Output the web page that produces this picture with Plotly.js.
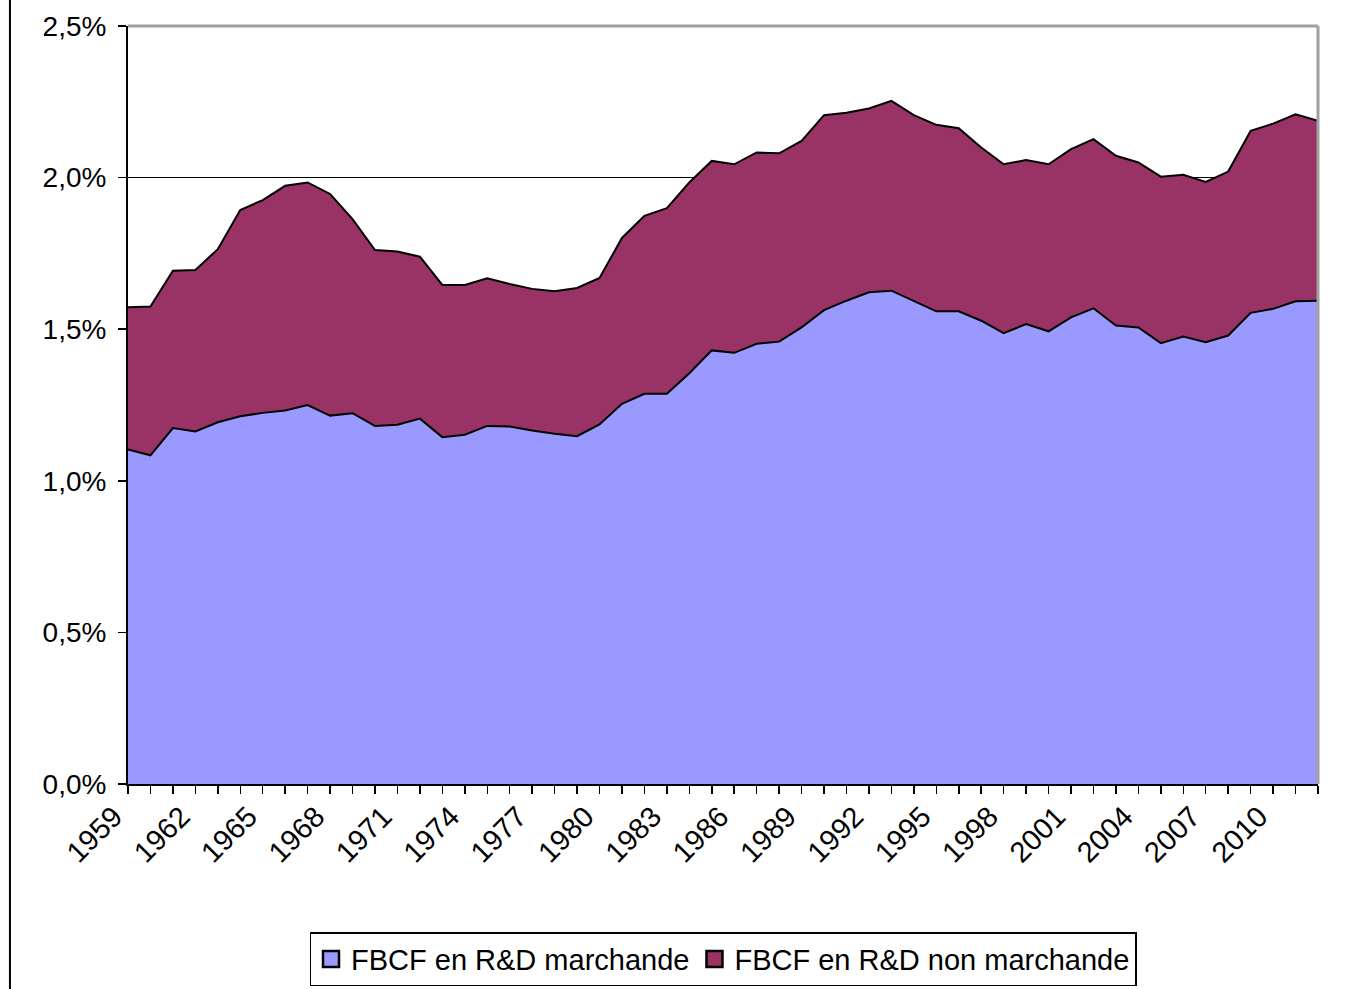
<!DOCTYPE html>
<html>
<head>
<meta charset="utf-8">
<script src="https://cdn.plot.ly/plotly-3.0.1.min.js"></script>
<style>
html,body{margin:0;padding:0;background:#fff;}
#chart{width:1347px;height:989px;}
</style>
</head>
<body>
<div id="chart"></div>
<script>
const years = [1959,1960,1961,1962,1963,1964,1965,1966,1967,1968,1969,1970,1971,1972,1973,1974,1975,1976,1977,1978,1979,1980,1981,1982,1983,1984,1985,1986,1987,1988,1989,1990,1991,1992,1993,1994,1995,1996,1997,1998,1999,2000,2001,2002,2003,2004,2005,2006,2007,2008,2009,2010,2011,2012];

// FBCF en R&D marchande (% du PIB)
const marchande = [1.103,1.084,1.174,1.163,1.193,1.213,1.224,1.232,1.250,1.215,1.223,1.181,1.185,1.205,1.144,1.152,1.181,1.179,1.166,1.155,1.147,1.186,1.254,1.287,1.287,1.355,1.430,1.422,1.452,1.459,1.506,1.563,1.594,1.622,1.627,1.594,1.559,1.559,1.528,1.487,1.517,1.493,1.539,1.569,1.512,1.506,1.454,1.476,1.457,1.479,1.554,1.567,1.592,1.594];

// FBCF en R&D non marchande (% du PIB)
const nonMarchande = [0.469,0.491,0.519,0.532,0.571,0.680,0.702,0.741,0.734,0.731,0.640,0.580,0.571,0.534,0.502,0.494,0.487,0.470,0.467,0.470,0.489,0.483,0.547,0.587,0.612,0.629,0.625,0.622,0.631,0.621,0.615,0.643,0.620,0.606,0.626,0.612,0.615,0.604,0.571,0.557,0.541,0.551,0.555,0.558,0.560,0.544,0.549,0.533,0.529,0.541,0.600,0.611,0.617,0.593];

const seriesNames = ["FBCF en R&D marchande", "FBCF en R&D non marchande"];
const seriesColors = ["#9999FF", "#993366"];
const xTickVals = [1959,1962,1965,1968,1971,1974,1977,1980,1983,1986,1989,1992,1995,1998,2001,2004,2007,2010];
const xTickText = ["1959","1962","1965","1968","1971","1974","1977","1980","1983","1986","1989","1992","1995","1998","2001","2004","2007","2010"];
const yTickVals = [0,0.5,1.0,1.5,2.0,2.5];
const yTickText = ["0,0%","0,5%","1,0%","1,5%","2,0%","2,5%"];

const font = "Liberation Sans, Arial, sans-serif";

const traces = [
  {x: years, y: marchande, name: seriesNames[0], type: "scatter", mode: "lines",
   stackgroup: "one", fillcolor: seriesColors[0], line: {color: "#000", width: 2},
   showlegend: false, legendgroup: "a"},
  {x: years, y: nonMarchande, name: seriesNames[1], type: "scatter", mode: "lines",
   stackgroup: "one", fillcolor: seriesColors[1], line: {color: "#000", width: 2},
   showlegend: false, legendgroup: "b"},
  // legend keys (no data drawn)
  {x: [null], y: [null], name: seriesNames[0], type: "scatter", mode: "markers", legendgroup: "a",
   marker: {symbol: "square", size: 18, color: seriesColors[0], line: {color: "#000", width: 2.5}}},
  {x: [null], y: [null], name: seriesNames[1], type: "scatter", mode: "markers", legendgroup: "b",
   marker: {symbol: "square", size: 18, color: seriesColors[1], line: {color: "#000", width: 2.5}}}
];

const layout = {
  width: 1347, height: 989,
  margin: {l: 128, r: 29, t: 26, b: 205},
  paper_bgcolor: "#fff", plot_bgcolor: "#fff",
  showlegend: true,
  font: {family: font, size: 28, color: "#000"},
  xaxis: {
    range: [1959, 2012], fixedrange: true, automargin: false,
    tickmode: "array", tickvals: xTickVals, ticktext: xTickText,
    tickangle: -45, ticks: "outside", ticklen: 8, tickwidth: 1.5, tickcolor: "#000",
    minor: {dtick: 1, tick0: 1959, ticks: "outside", ticklen: 8, tickwidth: 1.5, tickcolor: "#000", showgrid: false},
    ticklabelshift: -14, ticklabelstandoff: -6,
    showgrid: false, zeroline: false,
    showline: true, linecolor: "#000", linewidth: 2,
    tickfont: {family: font, size: 29, color: "#000"}
  },
  yaxis: {
    range: [0, 2.5], fixedrange: true, automargin: false,
    tickmode: "array", tickvals: yTickVals, ticktext: yTickText,
    ticks: "outside", ticklen: 8, tickwidth: 1.5, tickcolor: "#000",
    showgrid: true, gridcolor: "#000", gridwidth: 1.5,
    zeroline: false,
    showline: true, linecolor: "#000", linewidth: 2,
    ticklabelstandoff: 6,
    tickfont: {family: font, size: 28, color: "#000"}
  },
  legend: {
    orientation: "h", x: 0.5, xanchor: "center",
    yref: "container", y: 0.0576, yanchor: "top",
    traceorder: "normal",
    bordercolor: "#000", borderwidth: 1.5, bgcolor: "#fff",
    font: {family: font, size: 29, color: "#000"},
    itemwidth: 30, itemsizing: "trace"
  },
  shapes: [
    {type: "line", xref: "paper", yref: "paper", x0: 0, x1: 1, y0: 1, y1: 1, line: {color: "#a0a0a0", width: 3}},
    {type: "line", xref: "paper", yref: "paper", x0: 1, x1: 1, y0: 0, y1: 1, line: {color: "#a0a0a0", width: 3}},
    {type: "line", xref: "paper", yref: "paper", x0: -0.0992, x1: -0.0992, y0: -0.28, y1: 1.04, line: {color: "#000", width: 2}}
  ]
};

Plotly.newPlot("chart", traces, layout, {displayModeBar: false, staticPlot: true});
</script>
</body>
</html>
